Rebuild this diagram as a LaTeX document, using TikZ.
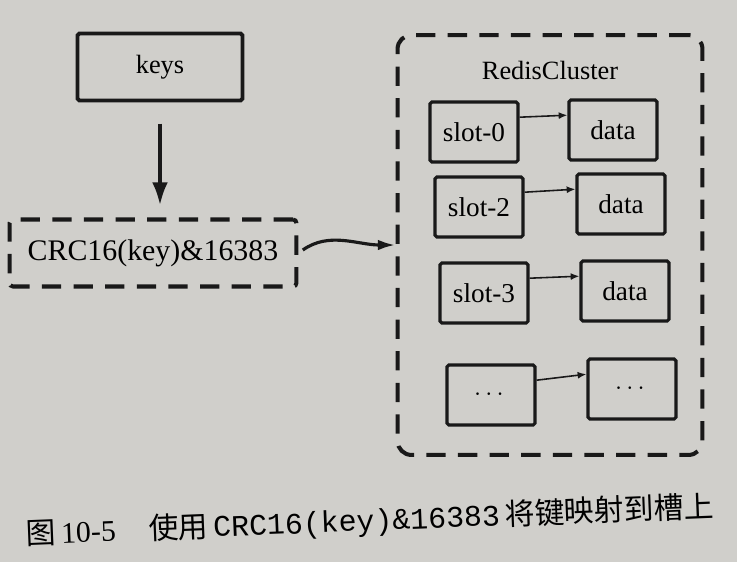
\documentclass[tikz,border=0pt]{standalone}
\usepackage{amsmath}
\usepackage{fontspec}
\setmainfont{Liberation Serif}
\newfontfamily\cjk{Noto Sans CJK SC}
\newfontfamily\codefont{Liberation Mono}
\usepackage{tikz}
\usetikzlibrary{arrows.meta}
\definecolor{paper}{RGB}{208,207,203}
\definecolor{ink}{RGB}{25,25,25}
\tikzstyle{keybox}=[draw=ink, line width=2.2pt, rounded corners=1pt, minimum width=3.3cm, minimum height=1.34cm, inner sep=0pt, font=\fontsize{15}{18}\selectfont]
\tikzstyle{slotbox}=[draw=ink, line width=1.8pt, rounded corners=1pt, minimum width=1.76cm, minimum height=1.2cm, inner sep=0pt, font=\fontsize{15.5}{18}\selectfont]
\tikzstyle{dashbox}=[draw=ink, line width=2.3pt, dash pattern=on 11pt off 7pt, inner sep=0pt]
\tikzstyle{arrow}=[draw=ink, line width=2pt, -{Latex[length=13pt,width=9pt]}]
\tikzstyle{link}=[draw=ink, line width=0.9pt, -{Latex[length=5pt,width=4pt]}]

\begin{document}
\begin{tikzpicture}[x=0.02cm, y=-0.02cm]
		   \fill[paper] (0,0) rectangle (737,562);
		   \useasboundingbox (0,0) rectangle (737,562);
		   \begin{scope}
			   \node (keys) at (160, 67)[keybox] {keys};
			   \node (crc) at (153, 253)[dashbox, rounded corners=2pt, minimum width=5.74cm, minimum height=1.34cm, font=\fontsize{17}{20}\selectfont] {CRC16(key)\&16383};
			   \node (cluster) at (550, 245)[dashbox, rounded corners=8pt, minimum width=6.1cm, minimum height=8.4cm] {};
			   \node (title) at (550, 70)[font=\fontsize{15}{18}\selectfont] {RedisCluster};
			   \node (s0) at (474, 132)[slotbox] {slot-0};
			   \node (d0) at (613, 130)[slotbox] {data};
			   \node (s2) at (479, 207)[slotbox] {slot-2};
			   \node (d2) at (621, 204)[slotbox] {data};
			   \node (s3) at (484, 293)[slotbox] {slot-3};
			   \node (d3) at (625, 291)[slotbox] {data};
			   \node (s4) at (491, 395)[slotbox] {$\cdots$};
			   \node (d4) at (632, 389)[slotbox] {$\cdots$};
			   \node (caption) at (26, 535)[anchor=west, rotate=2.3, inner sep=0pt, font=\fontsize{17}{20}\selectfont] {{\cjk 图}\,10-5\hspace{1.1em}{\cjk 使用}\,{\codefont CRC16(key)\&16383}\,{\cjk 将键映射到槽上}};
		   \end{scope}
		   \begin{scope}
			   \path (keys.south) edge [arrow, shorten <=12pt, shorten >=7pt] (keys.south |- crc.north);
			   \path (crc.east) edge [arrow, line width=1.8pt, -{Latex[length=10pt,width=6pt]}, shorten <=3pt, out=35, in=180] (cluster.west);
			   \path (s0.18) edge [link] (d0.162);
			   \path (s2.18) edge [link] (d2.162);
			   \path (s3.18) edge [link] (d3.162);
			   \path (s4.18) edge [link] (d4.162);
		   \end{scope}
\end{tikzpicture}
\end{document}
